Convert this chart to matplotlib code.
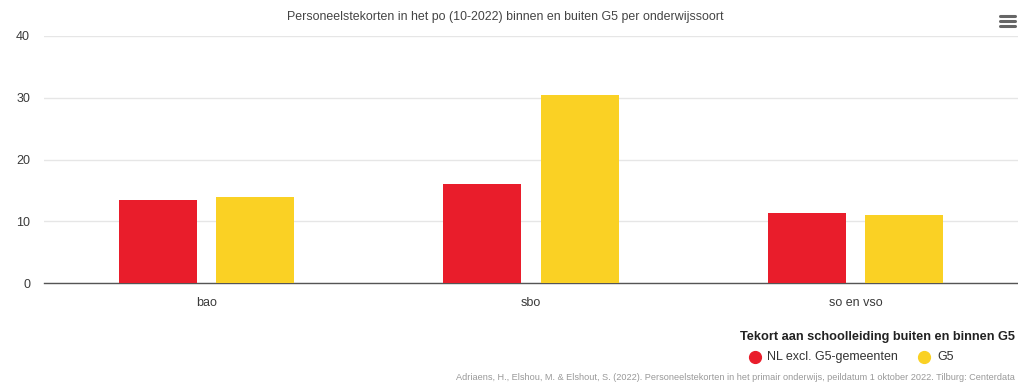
import matplotlib.pyplot as plt
import numpy as np

categories = ["bao", "sbo", "so en vso"]
nl_excl_g5 = [13.5, 16.0, 11.3]
g5 = [13.9, 30.4, 11.0]
series_names = ["NL excl. G5-gemeenten", "G5"]

title = "Personeelstekorten in het po (10-2022) binnen en buiten G5 per onderwijssoort"
legend_title = "Tekort aan schoolleiding buiten en binnen G5"
source = ("Adriaens, H., Elshou, M. & Elshout, S. (2022). Personeelstekorten in het "
          "primair onderwijs, peildatum 1 oktober 2022. Tilburg: Centerdata")

RED = "#e91d2b"
YELLOW = "#fad124"

plt.rcParams["font.family"] = ["Liberation Sans", "DejaVu Sans"]

fig = plt.figure(figsize=(10.18, 3.84), dpi=100)
ax = fig.add_axes([44 / 1018, 101 / 384, 974 / 1018, 247 / 384])

x = np.arange(len(categories))
width = 0.24
gap = 0.06
ax.bar(x - (width + gap) / 2, nl_excl_g5, width, color=RED, zorder=3)
ax.bar(x + (width + gap) / 2, g5, width, color=YELLOW, zorder=3)

ax.set_xlim(-0.5, len(categories) - 0.5)
ax.set_ylim(0, 40)
ax.set_yticks([0, 10, 20, 30, 40])
ax.set_xticks(x)
ax.set_xticklabels(categories)
ax.grid(axis="y", color="#e6e6e6", linewidth=1, zorder=0)
ax.tick_params(axis="both", length=0, labelsize=9, labelcolor="#3a3a3a")
ax.tick_params(axis="x", pad=10)
ax.tick_params(axis="y", pad=10)
for side in ["top", "right", "left"]:
    ax.spines[side].set_visible(False)
ax.spines["bottom"].set_color("#555555")
ax.spines["bottom"].set_linewidth(1)

fig.text(505 / 1018, 1 - 17 / 384, title, ha="center", va="center", fontsize=8.9, color="#444444")

# menu icon
for yy in [16, 21, 26]:
    fig.add_artist(plt.Line2D([1000 / 1018, 1015 / 1018], [1 - yy / 384] * 2,
                              color="#666666", linewidth=2.2, solid_capstyle="round"))

# legend
fig.text(1015 / 1018, 1 - 337 / 384, legend_title, ha="right", va="center",
         fontsize=9.2, fontweight="bold", color="#222222")
fig.add_artist(plt.Line2D([755 / 1018], [1 - 357 / 384], marker="o", markersize=8.5,
                          color=RED, linestyle=""))
fig.text(767 / 1018, 1 - 357 / 384, series_names[0], ha="left", va="center",
         fontsize=9, color="#333333")
fig.add_artist(plt.Line2D([924 / 1018], [1 - 357 / 384], marker="o", markersize=8.5,
                          color=YELLOW, linestyle=""))
fig.text(937 / 1018, 1 - 357 / 384, series_names[1], ha="left", va="center",
         fontsize=9, color="#333333")

fig.text(456 / 1018, 1 - 378 / 384, source, ha="left", va="center",
         fontsize=6.6, color="#999999")

fig.savefig("out.png", dpi=100)
